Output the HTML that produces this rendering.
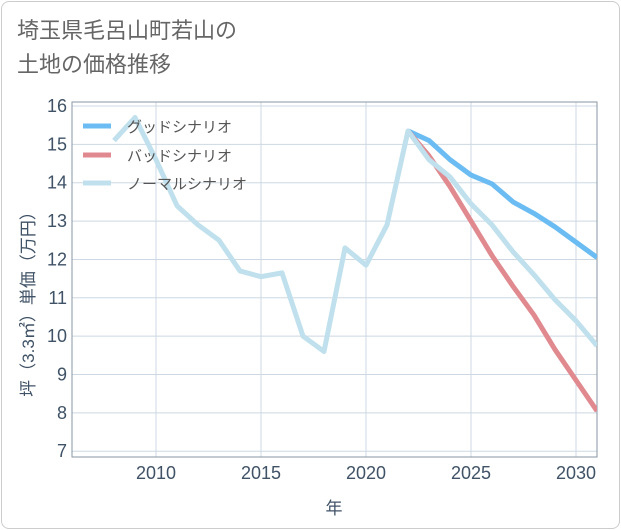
<!DOCTYPE html>
<html><head><meta charset="utf-8"><style>
body{margin:0;background:#fff;}
.card{position:absolute;left:1px;top:1px;width:617px;height:526px;border:1px solid #ccc;border-radius:8px;background:#fff;}
.title{position:absolute;left:17px;top:14px;font:22px "Liberation Sans","Noto Sans CJK JP",sans-serif;color:#666;line-height:34px;}
</style></head><body>
<div class="card"></div>
<div class="title">埼玉県毛呂山町若山の<br>土地の価格推移</div>
<svg id="c" width="621" height="530" style="position:absolute;left:0;top:0"></svg>
<script>
const years=[2008,2009,2010,2011,2012,2013,2014,2015,2016,2017,2018,2019,2020,2021,2022,2023,2024,2025,2026,2027,2028,2029,2030,2031];
const normal=[15.1,15.7,14.6,13.4,12.9,12.5,11.7,11.55,11.65,10.0,9.6,12.3,11.85,12.9,15.35,14.6,14.15,13.45,12.9,12.2,11.6,10.95,10.4,9.75];
const goodYears=[2022,2023,2024,2025,2026,2027,2028,2029,2030,2031];
const good=[15.35,15.1,14.6,14.2,13.97,13.5,13.2,12.85,12.45,12.05];
const bad=[15.35,14.7,13.9,13.0,12.1,11.3,10.55,9.65,8.85,8.05];
const yTicks=[7,8,9,10,11,12,13,14,15,16];
const xTicks=[2010,2015,2020,2025,2030];
const NS='http://www.w3.org/2000/svg';
const L=72,R=597,T=102,B=457;
const TXT='#3f5266';
const x=v=>156+(v-2010)*21;
const y=v=>106+(16-v)*38.36;
const svg=document.getElementById('c');
function mk(t,a,p){const e=document.createElementNS(NS,t);for(const k in a)e.setAttribute(k,a[k]);(p||svg).appendChild(e);return e;}
const grid=mk('g',{});


yTicks.forEach(v=>{
 const l=mk('line',{x1:L,x2:R,y1:y(v),y2:y(v),stroke:'#cdd8e3','stroke-width':1},grid);
 
 
 const t=mk('text',{x:L-5,y:y(v)+6,'text-anchor':'end','font-size':18,fill:TXT,'font-family':'Liberation Sans,sans-serif'});
 t.textContent=v;
 
 
});
xTicks.forEach(v=>{
 const l=mk('line',{x1:x(v),x2:x(v),y1:T,y2:B,stroke:'#cdd8e3','stroke-width':1},grid);
 
 
 const t=mk('text',{x:x(v),y:B+22,'text-anchor':'middle','font-size':18,fill:TXT,'font-family':'Liberation Sans,sans-serif'});
 t.textContent=v;
 
 
});
const box=mk('rect',{x:L,y:T,width:R-L,height:B-T,fill:'none',stroke:'#8a96a3','stroke-width':1});


function line(xs,vs,col,name){
 const p=mk('polyline',{points:xs.map((yr,i)=>x(yr)+','+y(vs[i])).join(' '),fill:'none',stroke:col,'stroke-width':5,'stroke-linejoin':'round'});
 
 
}
const clip=mk('clipPath',{id:'cp'});mk('rect',{x:L,y:T,width:R-L,height:B-T},clip);
line(goodYears,good,'#6bbcf2','good-scenario-line');
line(goodYears,bad,'#e08a90','bad-scenario-line');
line(years,normal,'#bfe0ec','normal-scenario-line');
svg.querySelectorAll('polyline').forEach(p=>p.setAttribute('clip-path','url(#cp)'));
const leg=[['グッドシナリオ','#6bbcf2',126],['バッドシナリオ','#e08a90',155],['ノーマルシナリオ','#bfe0ec',183]];
leg.forEach(([n,c,yy])=>{
 const g=mk('g',{});
 
 
 mk('line',{x1:83,x2:111,y1:yy,y2:yy,stroke:c,'stroke-width':5},g);
 const t=mk('text',{x:127,y:yy+6,'font-size':15,fill:'#555','font-family':'Liberation Sans,Noto Sans CJK JP,sans-serif'},g);
 t.textContent=n;
});
const xt=mk('text',{x:334,y:514,'text-anchor':'middle','font-size':17,fill:TXT,'font-family':'Liberation Sans,Noto Sans CJK JP,sans-serif'});
xt.textContent='年';


const yt=mk('text',{x:0,y:0,'text-anchor':'middle','font-size':17,fill:TXT,'font-family':'Liberation Sans,Noto Sans CJK JP,sans-serif',transform:'translate(34,300) rotate(-90)'});
yt.textContent='坪（3.3㎡）単価（万円）';


</script>
</body></html>
